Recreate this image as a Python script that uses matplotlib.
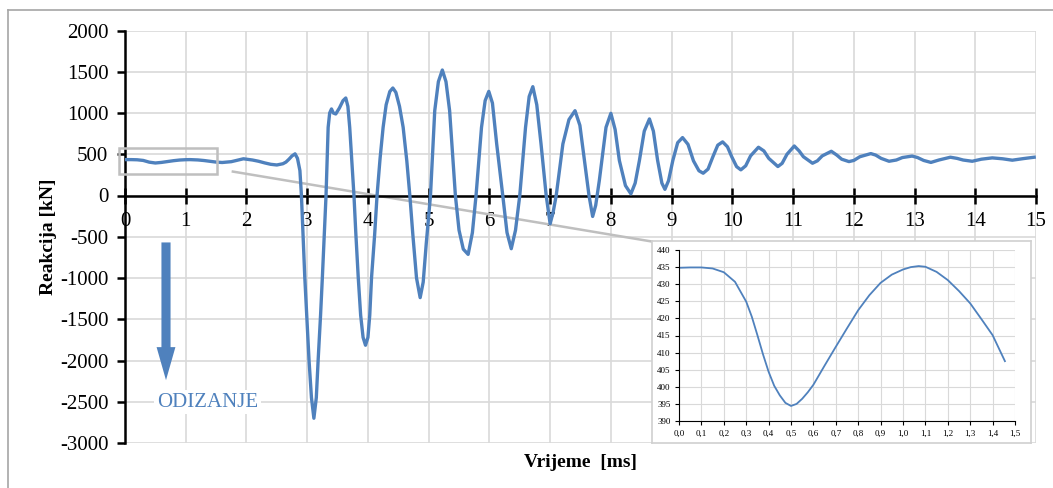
import numpy as np
import matplotlib.pyplot as plt
from matplotlib.lines import Line2D
from matplotlib.patches import Rectangle, FancyArrow
from matplotlib.ticker import FuncFormatter

# main record: time [ms] and reaction [kN]
t_main = [0.0, 0.1, 0.2, 0.3, 0.4, 0.5, 0.6, 0.7, 0.8, 0.9, 1.0, 1.07, 1.2, 1.3, 1.4,
          1.5, 1.6, 1.75, 1.95, 2.1, 2.2, 2.3, 2.4, 2.5, 2.6, 2.65, 2.7, 2.75, 2.8,
          2.84, 2.88, 2.905, 2.93, 2.96, 3.0, 3.03, 3.07, 3.11, 3.15, 3.18, 3.22,
          3.25, 3.28, 3.31, 3.345, 3.37, 3.40, 3.43, 3.47, 3.53, 3.59, 3.635, 3.67,
          3.70, 3.735, 3.77, 3.80, 3.84, 3.88, 3.92, 3.96, 4.00, 4.03, 4.06, 4.11,
          4.15, 4.20, 4.25, 4.30, 4.36, 4.41, 4.46, 4.52, 4.58, 4.64, 4.69, 4.74,
          4.80, 4.86, 4.91, 4.96, 5.03, 5.10, 5.16, 5.225, 5.285, 5.345, 5.39, 5.44,
          5.50, 5.57, 5.65, 5.72, 5.78, 5.87, 5.93, 5.99, 6.05, 6.12, 6.22, 6.29,
          6.36, 6.43, 6.50, 6.595, 6.655, 6.715, 6.78, 6.85, 6.935, 7.00, 7.05,
          7.10, 7.21, 7.31, 7.41, 7.49, 7.565, 7.64, 7.70, 7.75, 7.81, 7.92, 8.00,
          8.07, 8.14, 8.24, 8.33, 8.40, 8.47, 8.55, 8.635, 8.70, 8.77, 8.84, 8.89,
          8.95, 9.02, 9.10, 9.18, 9.27, 9.36, 9.45, 9.52, 9.60, 9.68, 9.76, 9.84,
          9.92, 9.99, 10.07, 10.14, 10.22, 10.30, 10.43, 10.52, 10.60, 10.75, 10.82,
          10.90, 11.02, 11.10, 11.17, 11.32, 11.40, 11.48, 11.63, 11.72, 11.80,
          11.92, 12.0, 12.1, 12.28, 12.36, 12.45, 12.58, 12.7, 12.8, 12.96, 13.05,
          13.15, 13.27, 13.4, 13.59, 13.7, 13.8, 13.95, 14.1, 14.28, 14.45, 14.61,
          14.8, 14.97]
r_main = [435, 435, 433, 425, 404, 394, 401, 412, 422, 430, 434, 435, 431, 424, 415,
          405, 400, 410, 445, 430, 415, 395, 378, 370, 385, 405, 440, 480, 505,
          450, 302, 0, -450, -988, -1550, -1997, -2450, -2700, -2450, -1997, -1450,
          -988, -480, 0, 826, 1000, 1049, 1000, 988, 1060, 1150, 1182, 1080,
          826, 420, 0, -450, -988, -1450, -1720, -1815, -1720, -1450, -988, -480,
          0, 450, 826, 1100, 1260, 1303, 1250, 1080, 826, 420, 0, -480,
          -1000, -1238, -1050, -585, 0, 1028, 1380, 1521, 1380, 1028, 540, 0,
          -420, -650, -714, -450, 0, 826, 1150, 1262, 1120, 625, 0, -450,
          -645, -420, 0, 826, 1200, 1319, 1100, 625, 0, -343, -200,
          0, 625, 920, 1028, 850, 424, 0, -254, -120, 182, 826, 996,
          800, 424, 120, 20, 150, 424, 780, 928, 780, 424, 150, 75,
          180, 424, 640, 702, 620, 420, 300, 270, 320, 470, 610, 650,
          590, 470, 350, 311, 360, 480, 585, 540, 450, 351, 390,
          500, 600, 540, 470, 391, 420, 480, 536, 490, 440,
          411, 425, 470, 508, 490, 450, 415, 430, 460, 478, 460,
          425, 401, 430, 464, 450, 430, 415, 440, 456, 445, 428,
          448, 464]

# zoomed start of the record (inset)
t_zoom = [0.0, 0.05, 0.1, 0.15, 0.2, 0.25, 0.3, 0.325, 0.35, 0.375, 0.4, 0.425,
          0.45, 0.475, 0.5, 0.525, 0.55, 0.575, 0.6, 0.65, 0.7, 0.75, 0.8, 0.85,
          0.9, 0.95, 1.0, 1.035, 1.07, 1.1, 1.15, 1.2, 1.25, 1.3, 1.35, 1.4, 1.455]
r_zoom = [434.8, 434.9, 434.9, 434.6, 433.5, 430.7, 424.9, 420.5, 415.1, 409.5,
          404.4, 400.3, 397.5, 395.3, 394.4, 395.0, 396.5, 398.4, 400.6, 406.2,
          411.7, 417.1, 422.4, 426.8, 430.4, 432.8, 434.3, 435.0, 435.3, 435.1,
          433.6, 431.2, 428.0, 424.4, 419.8, 415.1, 407.5]

blue = '#4f81bd'
grid_c = '#d9d9d9'
plt.rcParams['font.family'] = ['Liberation Serif', 'DejaVu Serif']
plt.rcParams['axes.unicode_minus'] = False
plt.rcParams['lines.solid_joinstyle'] = 'round'

W, H = 1053, 488
fig = plt.figure(figsize=(W / 100, H / 100), dpi=100)

# outer chart frame (left and top edges visible)
fig.add_artist(Line2D([8 / W, 8 / W], [0, 1 - 10 / H], color='#a6a6a6', lw=1.2))
fig.add_artist(Line2D([8 / W, 1], [1 - 10 / H, 1 - 10 / H], color='#a6a6a6', lw=1.2))


def fig_box(x0, y0, x1, y1):
    return [x0 / W, 1 - y1 / H, (x1 - x0) / W, (y1 - y0) / H]


ax = fig.add_axes(fig_box(125, 30.5, 1036, 443))
ax.plot(t_main, r_main, color=blue, lw=2.4, zorder=3)
ax.set_xlim(0, 15)
ax.set_ylim(-3000, 2000)
ax.set_xticks(np.arange(0, 16, 1))
ax.set_yticks(np.arange(-3000, 2001, 500))
ax.grid(True, color=grid_c, lw=1.2)
ax.set_axisbelow(True)
for s in ['top', 'right']:
    ax.spines[s].set_visible(False)
ax.spines['bottom'].set_position(('data', 0))
ax.spines['bottom'].set_linewidth(1.8)
ax.spines['left'].set_linewidth(1.8)
ax.tick_params(axis='x', direction='inout', length=12, width=1.8, labelsize=15, pad=6)
ax.tick_params(axis='y', direction='out', length=6, width=1.8, labelsize=15, pad=6)
ax.set_ylabel('Reakcija [kN]', fontsize=14, fontweight='bold', labelpad=2)
ax.text(0.5, -0.048, 'Vrijeme  [ms]', transform=ax.transAxes, ha='center', va='center',
        fontsize=14, fontweight='bold')

# highlight box and leader line to the inset
ax.add_patch(Rectangle((-0.1, 266), 1.61, 315, fill=False, ec='#bfbfbf', lw=1.8,
                       clip_on=False, zorder=4))
ax.plot([1.776, 8.668], [290, -557], color='#bfbfbf', lw=1.8, clip_on=False, zorder=2)

# lifting arrow and label
ax.add_patch(FancyArrow(0.675, -569, 0, -1669, width=0.15, head_width=0.31,
                        head_length=400, length_includes_head=True,
                        color=blue, ec='none', zorder=4))
ax.text(1.36, -2505, 'ODIZANJE', color=blue, fontsize=15, ha='center',
        va='center', zorder=4,
        bbox=dict(facecolor='white', edgecolor='none', pad=2))

# inset frame
frame = fig.add_axes(fig_box(652, 241, 1031, 443))
frame.set_xticks([])
frame.set_yticks([])
frame.set_facecolor('white')
for s in frame.spines.values():
    s.set_color('#d0d0d0')
    s.set_linewidth(1.2)

ins = fig.add_axes(fig_box(679, 250, 1015, 421))
ins.plot(t_zoom, r_zoom, color=blue, lw=1.3)
ins.set_xlim(0, 1.5)
ins.set_ylim(390, 440)
ins.set_xticks(np.arange(0, 1.51, 0.1))
ins.set_yticks(np.arange(390, 441, 5))
ins.xaxis.set_major_formatter(FuncFormatter(lambda v, p: f'{v:.1f}'.replace('.', ',')))
ins.grid(True, color=grid_c, lw=0.8)
ins.set_axisbelow(True)
for s in ['top', 'right']:
    ins.spines[s].set_visible(False)
ins.tick_params(direction='out', length=3, width=0.8, labelsize=6.5, pad=3)

fig.savefig('out.png', dpi=100)
